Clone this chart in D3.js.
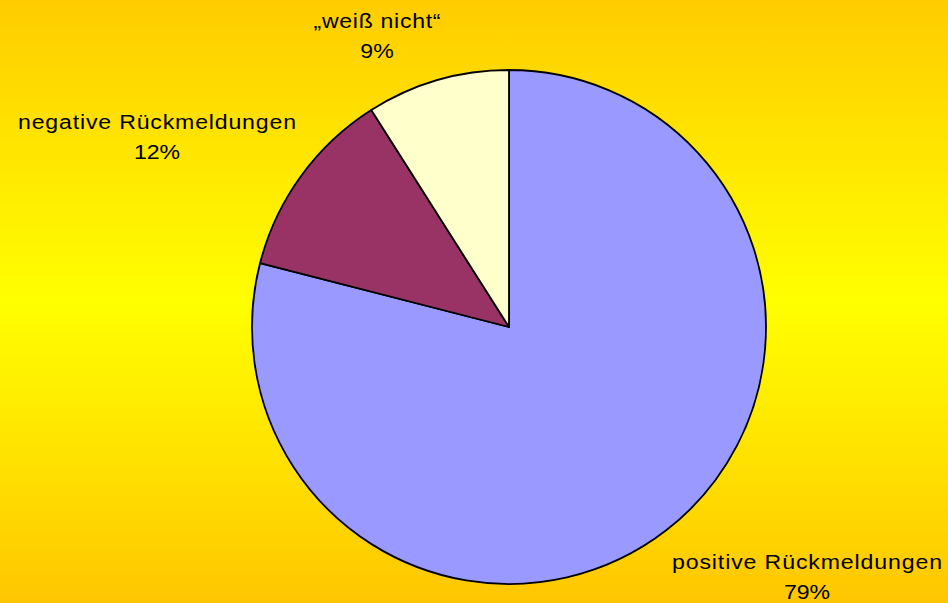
<!DOCTYPE html>
<html>
<head>
<meta charset="utf-8">
<script src="https://cdn.jsdelivr.net/npm/d3@7"></script>
<style>
  html, body { margin: 0; padding: 0; overflow: hidden; }
  svg { display: block; }
</style>
</head>
<body>
<script>
// Survey result: feedback shares
const categories = ["positive Rückmeldungen", "negative Rückmeldungen", "\u201eweiß nicht\u201c"];
const values = [79, 12, 9];
const colors = ["#9999FF", "#993366", "#FFFFCC"];

const W = 948, H = 603;
const cx = 509, cy = 327, R = 257;

const svg = d3.select("body").append("svg")
  .attr("width", W).attr("height", H);

// Background: orange-yellow at top and bottom, bright yellow in the middle
const grad = svg.append("defs").append("linearGradient")
  .attr("id", "bg").attr("x1", 0).attr("y1", 0).attr("x2", 0).attr("y2", 1);
grad.append("stop").attr("offset", "0%").attr("stop-color", "#FFCC00");
grad.append("stop").attr("offset", "50%").attr("stop-color", "#FFFF00");
grad.append("stop").attr("offset", "100%").attr("stop-color", "#FFC600");
svg.append("rect").attr("width", W).attr("height", H).attr("fill", "url(#bg)");

const data = categories.map((c, i) => ({ label: c, value: values[i], color: colors[i] }));

const pie = d3.pie().value(d => d.value).sort(null);
const arc = d3.arc().innerRadius(0).outerRadius(R);

const g = svg.append("g").attr("transform", `translate(${cx},${cy})`);
g.selectAll("path")
  .data(pie(data))
  .join("path")
  .attr("d", arc)
  .attr("fill", d => d.data.color)
  .attr("stroke", "#000")
  .attr("stroke-width", 1.8)
  .attr("stroke-linejoin", "round");

// Labels: name on the first line, percentage below (slightly wide type)
const stretch = 1.1;
const labelPos = [
  { x: 807, y: 569, w: 270 },
  { x: 157, y: 129, w: 278 },
  { x: 377, y: 28, w: 127 }
];
const lineGap = 30;

data.forEach((d, i) => {
  const p = labelPos[i];
  const t = svg.append("g")
    .attr("transform", `translate(${p.x},0) scale(${stretch},1)`)
    .append("text")
    .attr("text-anchor", "middle")
    .attr("font-family", "Liberation Sans, Arial, sans-serif")
    .attr("font-size", 21)
    .attr("fill", "#000");
  t.append("tspan")
    .attr("x", 0).attr("y", p.y)
    .attr("textLength", p.w / stretch)
    .attr("lengthAdjust", "spacing")
    .text(d.label);
  t.append("tspan")
    .attr("x", 0).attr("y", p.y + lineGap)
    .text(d3.format(".0f")(d.value) + "%");
});
</script>
</body>
</html>
